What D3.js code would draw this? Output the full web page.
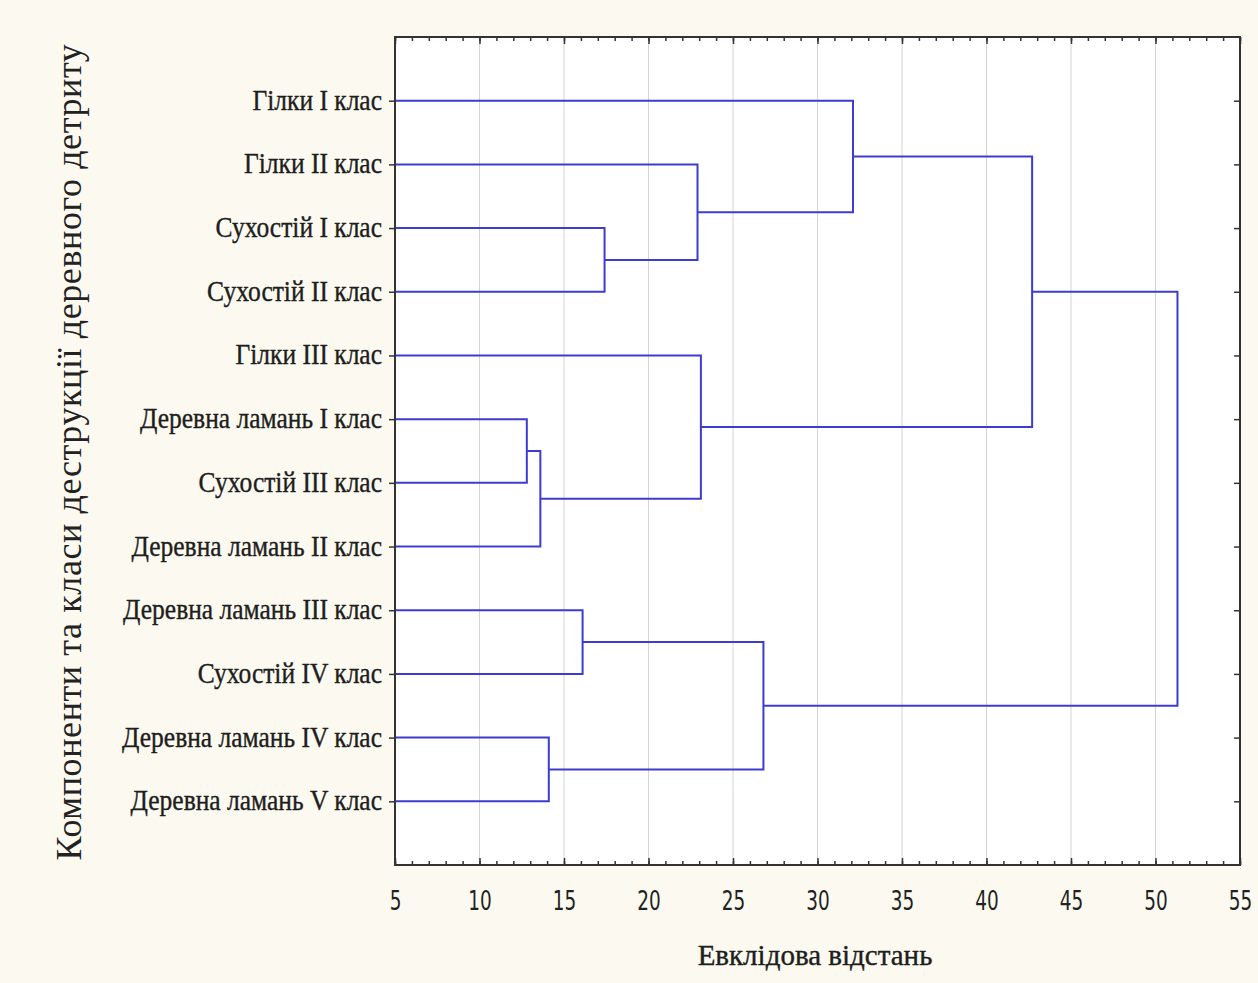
<!DOCTYPE html>
<html>
<head>
<script src="https://d3js.org/d3.v7.min.js"></script>
<style>
body { margin: 0; background: #fcfaf0; }
.lbl { font-family: "Liberation Serif", serif; }
.num { font-family: "DejaVu Sans Condensed", "Liberation Sans Narrow", sans-serif; }
</style>
</head>
<body>
<script>
// leaves, top to bottom
var leaves = ["Гілки I клас", "Гілки II клас", "Сухостій I клас", "Сухостій II клас",
  "Гілки III клас", "Деревна ламань I клас", "Сухостій III клас", "Деревна ламань II клас",
  "Деревна ламань III клас", "Сухостій IV клас", "Деревна ламань IV клас", "Деревна ламань V клас"];
// joins: [node a, node b, linkage distance]; new nodes get ids 12, 13, ...
var joins = [
  [2, 3, 17.4],
  [1, 12, 22.9],
  [0, 13, 32.1],
  [5, 6, 12.8],
  [15, 7, 13.6],
  [4, 16, 23.1],
  [14, 17, 42.7],
  [8, 9, 16.1],
  [10, 11, 14.1],
  [19, 20, 26.8],
  [18, 21, 51.3]
];
var xTicks = [5, 10, 15, 20, 25, 30, 35, 40, 45, 50, 55];

var W = 1258, H = 983;
var m = {left: 395, right: 1240, top: 37, bottom: 865};

var svg = d3.select("body").append("svg").attr("width", W).attr("height", H);

var x = d3.scaleLinear().domain([5, 55]).range([m.left, m.right]);
var y = d3.scaleLinear().domain([0, leaves.length + 1]).range([m.top, m.bottom]);

svg.append("rect")
  .attr("x", m.left).attr("y", m.top)
  .attr("width", m.right - m.left).attr("height", m.bottom - m.top)
  .attr("fill", "#ffffff");

// grid
svg.append("g").selectAll("line").data(xTicks.slice(1, -1)).enter().append("line")
  .attr("x1", d => x(d)).attr("x2", d => x(d))
  .attr("y1", m.top).attr("y2", m.bottom)
  .attr("stroke", "#d4d4d4").attr("stroke-width", 1);

// node positions
var nodes = leaves.map((d, i) => ({x: x(5), y: y(i + 1)}));
joins.forEach(function(j) {
  nodes.push({x: x(j[2]), y: (nodes[j[0]].y + nodes[j[1]].y) / 2});
});

var g = svg.append("g");
joins.forEach(function(j) {
  var a = nodes[j[0]], b = nodes[j[1]], hx = x(j[2]);
  g.append("path")
    .attr("d", "M" + a.x + "," + a.y + "H" + hx + "V" + b.y + "H" + b.x)
    .attr("fill", "none")
    .attr("stroke", "#3c3cd2")
    .attr("stroke-width", 2);
});

// axes: minor + major ticks, inward, top and bottom
var minor = d3.range(5, 56, 1);
[[m.bottom, d3.axisTop], [m.top, d3.axisBottom]].forEach(function(p) {
  svg.append("g").attr("transform", "translate(0," + p[0] + ")")
    .call(p[1](x).tickValues(minor).tickSize(4).tickFormat(""))
    .call(a => a.select(".domain").remove());
  svg.append("g").attr("transform", "translate(0," + p[0] + ")")
    .call(p[1](x).tickValues(xTicks).tickSize(7).tickFormat(""))
    .call(a => a.select(".domain").remove());
});

var xa = svg.append("g").attr("transform", "translate(0," + m.bottom + ")")
  .call(d3.axisBottom(x).tickValues(xTicks).tickSize(0));
xa.select(".domain").remove();
xa.selectAll(".tick text").remove();
xa.selectAll(".tick").append("text")
  .attr("class", "num")
  .attr("text-anchor", "middle")
  .attr("y", 45)
  .attr("font-size", 27)
  .attr("fill", "#222")
  .attr("transform", "scale(0.76,1)")
  .text(d => d);

var yIdx = d3.range(1, leaves.length + 1);
svg.append("g").attr("transform", "translate(" + m.left + ",0)")
  .call(d3.axisLeft(y).tickValues(yIdx).tickSize(6).tickFormat(""))
  .call(a => a.select(".domain").remove());
svg.append("g").attr("transform", "translate(" + m.right + ",0)")
  .call(d3.axisLeft(y).tickValues(yIdx).tickSize(6).tickFormat(""))
  .call(a => a.select(".domain").remove());

svg.append("rect")
  .attr("x", m.left).attr("y", m.top)
  .attr("width", m.right - m.left).attr("height", m.bottom - m.top)
  .attr("fill", "none").attr("stroke", "#333").attr("stroke-width", 2);
svg.selectAll(".tick line").attr("stroke", "#333").attr("stroke-width", 1.5);

// leaf labels
svg.append("g").selectAll("text").data(leaves).enter().append("text")
  .attr("class", "lbl")
  .attr("transform", (d, i) => "translate(382," + (y(i + 1) + 9) + ") scale(0.85,1)")
  .attr("text-anchor", "end")
  .attr("font-size", 30)
  .attr("fill", "#1e1e1e")
  .attr("stroke", "#1e1e1e")
  .attr("stroke-width", 0.4)
  .text(d => d);

svg.append("text")
  .attr("class", "lbl")
  .attr("x", 815).attr("y", 965)
  .attr("text-anchor", "middle")
  .attr("font-size", 29)
  .attr("fill", "#1e1e1e")
  .attr("stroke", "#1e1e1e")
  .attr("stroke-width", 0.4)
  .text("Евклідова відстань");

svg.append("text")
  .attr("class", "lbl")
  .attr("transform", "translate(81,452) rotate(-90)")
  .attr("text-anchor", "middle")
  .attr("font-size", 36)
  .attr("fill", "#222")
  .attr("letter-spacing", 0.6)
  .text("Компоненти та класи деструкції деревного детриту");
</script>
</body>
</html>
